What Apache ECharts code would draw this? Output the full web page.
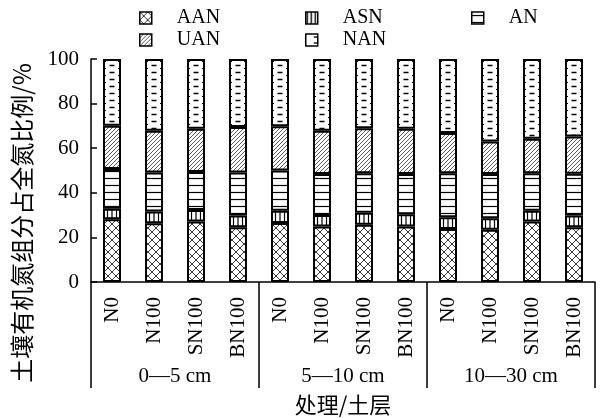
<!DOCTYPE html>
<html><head><meta charset="utf-8">
<script src="https://cdn.jsdelivr.net/npm/echarts@6/dist/echarts.min.js"></script>
<style>html,body{margin:0;padding:0;background:#fff}#c{width:608px;height:418px}</style>
</head><body><div id="c"></div>
<script>
const categories = ['N0','N100','SN100','BN100','N0','N100','SN100','BN100','N0','N100','SN100','BN100'];
const layers = ['0—5 cm','5—10 cm','10—30 cm'];
const seriesNames = ['AAN','ASN','AN','UAN','NAN'];
const AAN = [28.1,26.3,27.1,24.6,26.5,24.9,25.7,24.9,23.8,23.4,27.1,24.6];
const ASN = [4.7,5.3,5.2,5.2,5.5,5.2,5.4,5.5,5.2,5.2,4.9,5.2];
const AN  = [17.9,17.5,17.0,19.3,18.0,18.3,17.7,18.0,19.8,19.8,16.8,18.7];
const UAN = [19.4,18.7,19.4,20.4,19.8,19.4,20.1,20.3,18.0,14.6,15.4,16.8];
const NAN = [29.9,32.2,31.3,30.5,30.2,32.2,31.1,31.3,33.2,37.0,35.8,34.7];
const yTicks = {min:0, max:100, step:20};

function tile(w,h,draw){const c=document.createElement('canvas');c.width=w;c.height=h;const g=c.getContext('2d');g.fillStyle='#fff';g.fillRect(0,0,w,h);g.strokeStyle='#000';g.lineCap='butt';draw(g);return {image:c,repeat:'repeat'};}
function line(g,x1,y1,x2,y2,w,col){g.beginPath();g.lineWidth=w;g.strokeStyle=col||'#000';g.moveTo(x1,y1);g.lineTo(x2,y2);g.stroke();}
const pats = {
  AAN: tile(8,8,g=>{line(g,0,0,8,8,0.9,'#222');line(g,8,0,0,8,0.9,'#222');}),
  ASN: tile(42,4,g=>{line(g,23.5,0,23.5,4,1.2);line(g,28,0,28,4,1.2);line(g,32.5,0,32.5,4,1.2);}),
  AN:  tile(4,7,g=>{line(g,0,3.5,4,3.5,1.2);}),
  UAN: tile(4,4,g=>{line(g,0,4,4,0,0.8,'#333');line(g,-1,1,1,-1,0.8,'#333');line(g,3,5,5,3,0.8,'#333');}),
  NAN: tile(42,7,g=>{line(g,25.5,2.5,30.5,2.5,1.5);line(g,20,5.5,22,5.5,1.2);line(g,34,5.5,36,5.5,1.2);})
};
const legendPats = {
  ASN: tile(4,4,g=>{line(g,1.5,0,1.5,4,1.4);}),
  NAN: tile(12,6,g=>{line(g,8,3,12,3,1.4);})
};
const dataMap = {AAN, ASN, AN, UAN, NAN};
const serif = '"Liberation Serif","Times New Roman",serif';
const chart = echarts.init(document.getElementById('c'), null, {renderer:'canvas'});
const legendPos = {AAN:[139,8],ASN:[305,8],AN:[471,8],UAN:[139,30],NAN:[305,30]};
chart.setOption({
  animation:false,
  backgroundColor:'#fff',
  grid:{left:91,right:13,top:59,bottom:136,containLabel:false},
  legend: seriesNames.map(n=>({
    data:[n], left:legendPos[n][0], top:legendPos[n][1], icon:'rect', itemWidth:12, itemHeight:12,
    selectedMode:false, padding:0,
    itemStyle:Object.assign({borderColor:'#000',borderWidth:1.5}, legendPats[n]?{color:legendPats[n]}:{}),
    formatter:'    {name}',
    textStyle:{fontFamily:serif,fontSize:20,color:'#000'}
  })),
  xAxis:[
    {type:'category',data:categories,position:'bottom',
     axisLine:{show:true,lineStyle:{color:'#000',width:1.5}},
     axisTick:{show:false},
     axisLabel:{rotate:90,interval:0,margin:15,fontFamily:serif,fontSize:21,color:'#000'}},
    {type:'category',data:layers,position:'bottom',
     axisLine:{show:false},
     axisTick:{show:true,interval:0,length:106,lineStyle:{color:'#000',width:1.5}},
     axisLabel:{interval:0,margin:84,fontFamily:serif,fontSize:21,color:'#000'}}
  ],
  yAxis:{type:'value',min:yTicks.min,max:yTicks.max,interval:yTicks.step,
    axisLine:{show:true,lineStyle:{color:'#000',width:1.5}},
    axisTick:{show:true,inside:true,length:6,lineStyle:{color:'#000',width:1.5}},
    axisLabel:{margin:12,fontFamily:serif,fontSize:21,color:'#000'},
    splitLine:{show:false}},
  graphic:[
    {type:'text',x:22,y:223,rotation:Math.PI/2,style:{text:'土壤有机氮组分占全氮比例/%',font:'24px "Noto Sans CJK SC"',textAlign:'center',textVerticalAlign:'middle',fill:'#000'}},
    {type:'text',x:343,y:405,style:{text:'处理/土层',font:'22px "Noto Sans CJK SC"',textAlign:'center',textVerticalAlign:'middle',fill:'#000'}}
  ],
  series: seriesNames.map(n=>({
    name:n,type:'bar',stack:'total',xAxisIndex:0,barWidth:18,
    data:dataMap[n],
    itemStyle:{color:pats[n],borderColor:'#000',borderWidth:2},
    emphasis:{disabled:true}
  }))
});
</script></body></html>
